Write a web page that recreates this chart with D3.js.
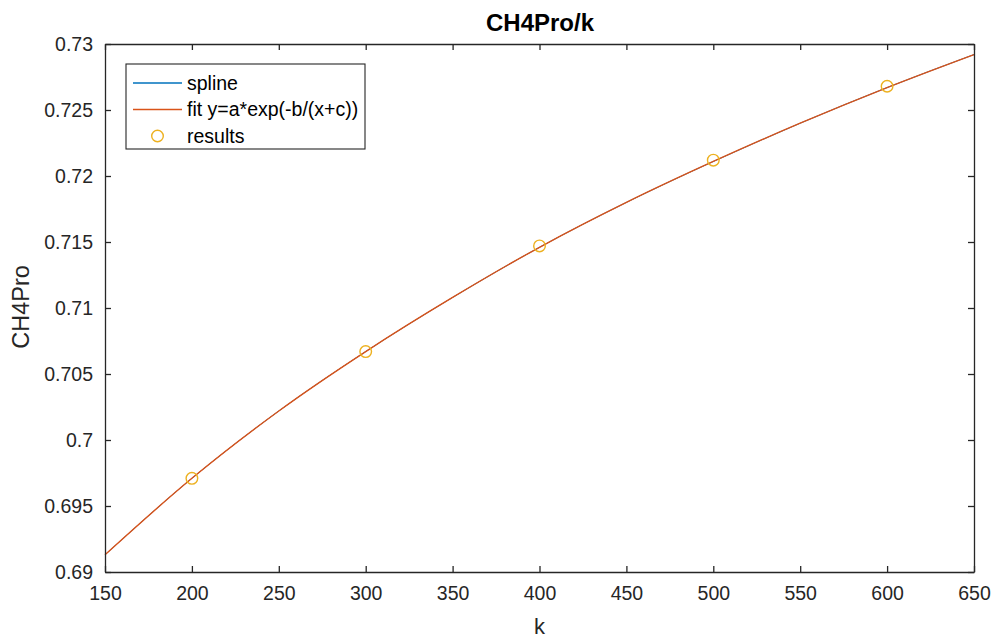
<!DOCTYPE html>
<html><head><meta charset="utf-8">
<script src="https://cdn.jsdelivr.net/npm/d3@7"></script>
<style>body{margin:0;background:#fff}svg{display:block}text{font-family:"Liberation Sans",Arial,sans-serif}</style>
</head><body><svg id="c" width="998" height="639"></svg>
<script>
const curveX = [150, 200, 250, 300, 350, 400, 450, 500, 550, 600, 650];
const splineY = [0.6913, 0.6971, 0.7022, 0.7067, 0.7108, 0.7146, 0.7180, 0.7211, 0.7240, 0.7267, 0.7292];
const fitY    = [0.6913, 0.6971, 0.7022, 0.7067, 0.7108, 0.7146, 0.7180, 0.7211, 0.7240, 0.7267, 0.7292];
const resultX = [200, 300, 400, 500, 600];
const resultY = [0.6971, 0.7067, 0.7147, 0.7212, 0.7268];
const xTicks = [150, 200, 250, 300, 350, 400, 450, 500, 550, 600, 650];
const yTicks = [0.69, 0.695, 0.7, 0.705, 0.71, 0.715, 0.72, 0.725, 0.73];
const yTickLabels = ["0.69","0.695","0.7","0.705","0.71","0.715","0.72","0.725","0.73"];

const svg = d3.select("#c");
const L = 105, R = 974, T = 44, B = 572;
const x = d3.scaleLinear().domain([150, 650]).range([L, R]);
const y = d3.scaleLinear().domain([0.69, 0.73]).range([B, T]);
const ax = "#262626", fs = 19.5;

// curves
const line = d3.line().x(d => x(d[0])).y(d => y(d[1])).curve(d3.curveMonotoneX);
const g = svg.append("g");
g.append("path").datum(curveX.map((v,i)=>[v, splineY[i]])).attr("d", line)
  .attr("fill","none").attr("stroke","#0072BD").attr("stroke-width",1.0);
g.append("path").datum(curveX.map((v,i)=>[v, fitY[i]])).attr("d", line)
  .attr("fill","none").attr("stroke","#D95319").attr("stroke-width",1.4);
g.selectAll("circle.r").data(resultX.map((v,i)=>[v,resultY[i]])).join("circle")
  .attr("cx", d=>x(d[0])).attr("cy", d=>y(d[1])).attr("r", 5.8)
  .attr("fill","none").attr("stroke","#EDB120").attr("stroke-width",1.4);

// axes
const xb = svg.append("g").attr("transform",`translate(0,${B})`)
  .call(d3.axisBottom(x).tickValues(xTicks).tickSizeInner(-6).tickSizeOuter(0).tickPadding(14));
const xt = svg.append("g").attr("transform",`translate(0,${T})`)
  .call(d3.axisTop(x).tickValues(xTicks).tickSizeInner(-6).tickSizeOuter(0).tickFormat(""));
const yl = svg.append("g").attr("transform",`translate(${L},0)`)
  .call(d3.axisLeft(y).tickValues(yTicks).tickSizeInner(-6).tickSizeOuter(0).tickPadding(12)
    .tickFormat((d,i)=>yTickLabels[i]));
const yr = svg.append("g").attr("transform",`translate(${R},0)`)
  .call(d3.axisRight(y).tickValues(yTicks).tickSizeInner(-6).tickSizeOuter(0).tickFormat(""));
[xb,xt,yl,yr].forEach(a=>{
  a.selectAll("path.domain").attr("stroke",ax).attr("stroke-width",1.3);
  a.selectAll(".tick line").attr("stroke",ax).attr("stroke-width",1.3);
  a.selectAll(".tick text").attr("fill",ax).style("font-size",fs+"px").style("font-family",'"Liberation Sans",Arial,sans-serif');
});

// labels
svg.append("text").attr("x",540).attr("y",31).attr("text-anchor","middle")
  .style("font-size","24px").style("font-weight","bold").attr("fill","#000").text("CH4Pro/k");
svg.append("text").attr("x",(L+R)/2).attr("y",634).attr("text-anchor","middle")
  .style("font-size","22px").attr("fill",ax).text("k");
svg.append("text").attr("transform",`translate(29,${307}) rotate(-90)`).attr("text-anchor","middle")
  .style("font-size","23.5px").attr("fill",ax).text("CH4Pro");

// legend
const lg = svg.append("g");
lg.append("rect").attr("x",126).attr("y",64).attr("width",239).attr("height",85)
  .attr("fill","#fff").attr("stroke",ax).attr("stroke-width",1.1);
const items = [
  {label:"spline", type:"line", color:"#0072BD"},
  {label:"fit y=a*exp(-b/(x+c))", type:"line", color:"#D95319"},
  {label:"results", type:"circle", color:"#EDB120"}
];
items.forEach((it,i)=>{
  const yy = 83 + i*26.5;
  if(it.type==="line") lg.append("line").attr("x1",133).attr("x2",182).attr("y1",yy).attr("y2",yy)
      .attr("stroke",it.color).attr("stroke-width",1.3);
  else lg.append("circle").attr("cx",157.5).attr("cy",yy).attr("r",5.8).attr("fill","none")
      .attr("stroke",it.color).attr("stroke-width",1.4);
  lg.append("text").attr("x",187).attr("y",yy).attr("dy","0.35em").style("font-size","19.5px")
    .attr("fill","#000").text(it.label);
});
</script></body></html>
